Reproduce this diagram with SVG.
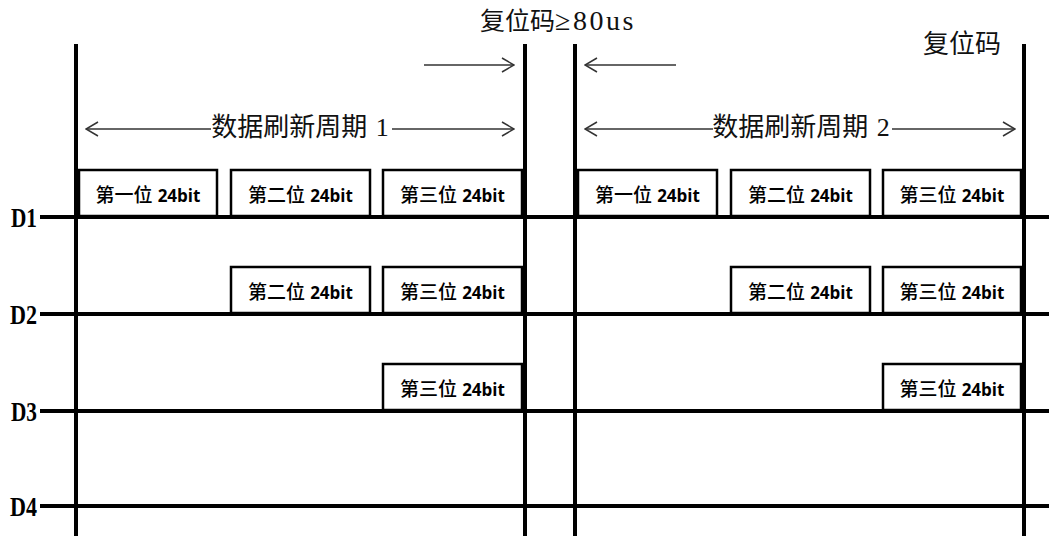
<svg xmlns="http://www.w3.org/2000/svg" width="1049" height="536" viewBox="0 0 1049 536">
<style>
.bg{fill:#fff}
.axis{stroke:#000;stroke-width:4;fill:none}
.box{fill:#fff;stroke:#000;stroke-width:2.5}
.btxt{font-family:"Noto Sans CJK SC",sans-serif;font-size:19px;font-weight:500;fill:#000;text-anchor:middle}
.num{font-family:"Open Sans","Noto Sans",sans-serif;font-weight:700;font-size:17px}
.lbl{font-family:"Liberation Serif","Noto Sans CJK SC",serif;font-weight:700;font-size:28px;fill:#000;text-anchor:end}
.cap{font-family:"Liberation Serif","Noto Sans CJK SC",serif;fill:#111}
.cjk{font-family:"Noto Sans CJK SC",sans-serif}
.lat{font-family:"Liberation Serif",serif}
.arr{stroke:#333;stroke-width:1.5;fill:none}
</style>
<defs>
<marker id="head" viewBox="0 0 14 16" refX="13" refY="8" markerWidth="14" markerHeight="16" markerUnits="userSpaceOnUse" orient="auto-start-reverse">
<path d="M1,1 L13,8 L1,15" fill="none" stroke="#333" stroke-width="1.5"/>
</marker>
</defs>
<rect class="bg" x="0" y="0" width="1049" height="536"/>

<g id="axes">
<line class="axis" x1="40" y1="217" x2="1049" y2="217"/>
<line class="axis" x1="40" y1="314" x2="1049" y2="314"/>
<line class="axis" x1="40" y1="411" x2="1049" y2="411"/>
<line class="axis" x1="40" y1="506" x2="1049" y2="506"/>
<line class="axis" x1="76" y1="44" x2="76" y2="536"/>
<line class="axis" x1="525" y1="44" x2="525" y2="536"/>
<line class="axis" x1="575" y1="44" x2="575" y2="536"/>
<line class="axis" x1="1024" y1="44" x2="1024" y2="536"/>
</g>

<g id="labels">
<text class="lbl" x="37" y="227" textLength="26" lengthAdjust="spacingAndGlyphs">D1</text>
<text class="lbl" x="37" y="324" textLength="27" lengthAdjust="spacingAndGlyphs">D2</text>
<text class="lbl" x="37" y="421" textLength="26" lengthAdjust="spacingAndGlyphs">D3</text>
<text class="lbl" x="37" y="516" textLength="27" lengthAdjust="spacingAndGlyphs">D4</text>
</g>

<g id="d1-p1-b1"><rect class="box" x="79" y="170" width="138" height="46"/><text class="btxt" x="148" y="202">第一位<tspan class="num" dx="5">24bit</tspan></text></g>
<g id="d1-p1-b2"><rect class="box" x="231" y="170" width="139" height="46"/><text class="btxt" x="300.5" y="202">第二位<tspan class="num" dx="5">24bit</tspan></text></g>
<g id="d1-p1-b3"><rect class="box" x="383" y="170" width="139" height="46"/><text class="btxt" x="452.5" y="202">第三位<tspan class="num" dx="5">24bit</tspan></text></g>
<g id="d1-p2-b1"><rect class="box" x="578" y="170" width="139" height="46"/><text class="btxt" x="647.5" y="202">第一位<tspan class="num" dx="5">24bit</tspan></text></g>
<g id="d1-p2-b2"><rect class="box" x="731" y="170" width="139" height="46"/><text class="btxt" x="800.5" y="202">第二位<tspan class="num" dx="5">24bit</tspan></text></g>
<g id="d1-p2-b3"><rect class="box" x="883" y="170" width="138" height="46"/><text class="btxt" x="952" y="202">第三位<tspan class="num" dx="5">24bit</tspan></text></g>

<g id="d2-p1-b2"><rect class="box" x="231" y="267" width="139" height="46"/><text class="btxt" x="300.5" y="299">第二位<tspan class="num" dx="5">24bit</tspan></text></g>
<g id="d2-p1-b3"><rect class="box" x="383" y="267" width="139" height="46"/><text class="btxt" x="452.5" y="299">第三位<tspan class="num" dx="5">24bit</tspan></text></g>
<g id="d2-p2-b2"><rect class="box" x="731" y="267" width="139" height="46"/><text class="btxt" x="800.5" y="299">第二位<tspan class="num" dx="5">24bit</tspan></text></g>
<g id="d2-p2-b3"><rect class="box" x="883" y="267" width="138" height="46"/><text class="btxt" x="952" y="299">第三位<tspan class="num" dx="5">24bit</tspan></text></g>

<g id="d3-p1-b3"><rect class="box" x="383" y="364" width="139" height="46"/><text class="btxt" x="452.5" y="396">第三位<tspan class="num" dx="5">24bit</tspan></text></g>
<g id="d3-p2-b3"><rect class="box" x="883" y="364" width="138" height="46"/><text class="btxt" x="952" y="396">第三位<tspan class="num" dx="5">24bit</tspan></text></g>

<g id="captions">
<text class="cap" x="480" y="30" font-size="25"><tspan class="cjk">复位码</tspan><tspan class="lat" font-size="28" letter-spacing="2.5">≥80us</tspan></text>
<text class="cap" x="923" y="53" font-size="26"><tspan class="cjk">复位码</tspan></text>
<text class="cap" x="301" y="136" font-size="26" text-anchor="middle"><tspan class="cjk">数据刷新周期</tspan><tspan class="lat" letter-spacing="2"> 1</tspan></text>
<text class="cap" x="802" y="136" font-size="26" text-anchor="middle"><tspan class="cjk">数据刷新周期</tspan><tspan class="lat" letter-spacing="2"> 2</tspan></text>
</g>

<g id="connectors">
<line class="arr" x1="424" y1="65" x2="514" y2="65" marker-end="url(#head)"/>
<line class="arr" x1="676" y1="65" x2="585" y2="65" marker-end="url(#head)"/>
<line class="arr" x1="86" y1="129" x2="211" y2="129" marker-start="url(#head)"/>
<line class="arr" x1="392" y1="129" x2="514" y2="129" marker-end="url(#head)"/>
<line class="arr" x1="585" y1="129" x2="713" y2="129" marker-start="url(#head)"/>
<line class="arr" x1="892" y1="129" x2="1015" y2="129" marker-end="url(#head)"/>
</g>
</svg>
